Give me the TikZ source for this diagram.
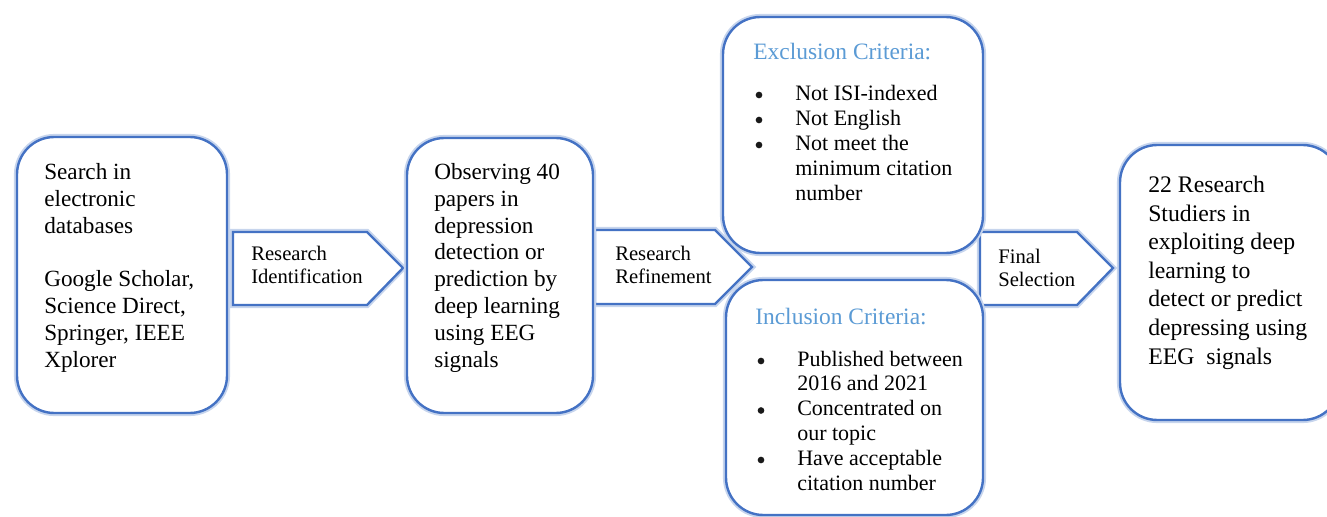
\documentclass[tikz,border=0pt]{standalone}
\usepackage{fontspec}
\setmainfont{Liberation Serif}
\newfontfamily\bodyserif{Liberation Serif}
\definecolor{bblue}{RGB}{68,114,196}
\definecolor{hblue}{RGB}{91,155,213}
\tikzset{
  glow/.style={preaction={draw=bblue!30, line width=4.6pt}},
  box/.style={glow, draw=bblue, line width=1.8pt, fill=white, rounded corners=28pt, inner sep=0pt},
  chevron/.style={glow, draw=bblue, line width=1.8pt, fill=white, line join=miter},
  bulletdot/.style={circle, fill=black!90, inner sep=0pt, minimum size=5pt},
  maintxt/.style={anchor=base west, align=left, inner sep=0pt, font=\bodyserif\fontsize{17.4}{20.1}\selectfont},
  lbltxt/.style={anchor=base west, align=left, inner sep=0pt, font=\bodyserif\fontsize{15.5}{17.25}\selectfont},
  headtxt/.style={anchor=base west, inner sep=0pt, text=hblue, font=\bodyserif\fontsize{17.6}{20}\selectfont},
  listtxt/.style={anchor=base west, align=left, inner sep=0pt, font=\bodyserif\fontsize{16.5}{18.6}\selectfont}
}
\begin{document}
\begin{tikzpicture}[x=0.75pt, y=-0.75pt]
\useasboundingbox (0,0) rectangle (1327,517);
\clip (0,0) rectangle (1327,517);
% chevrons (drawn first, behind boxes)
\draw[chevron] (233,232) -- (367,232) -- (403,268) -- (367,305) -- (233,305) -- cycle;
\draw[chevron] (595,230) -- (715,230) -- (752,267) -- (715,304) -- (595,304) -- cycle;
\draw[chevron] (980,232) -- (1077,232) -- (1113,268) -- (1077,305) -- (980,305) -- cycle;
% boxes
\node[box, minimum width=157.5pt, minimum height=207pt] (b1) at (122,275) {};
\node[box, minimum width=139.5pt, minimum height=206.25pt] (b2) at (500,275.5) {};
\node[box, minimum width=195pt, minimum height=177pt] (ex) at (853,135) {};
\node[box, minimum width=192.75pt, minimum height=176.25pt] (in) at (854.5,397.5) {};
\node[box, minimum width=165pt, minimum height=206.25pt] (b5) at (1230,282.5) {};
% texts (anchored at the baseline of their last line)
\node[maintxt] (t1) at (44,367) {Search in\\electronic\\databases\\\mbox{}\\Google Scholar,\\Science Direct,\\Springer, IEEE\\Xplorer};
\node[maintxt] (t2) at (434,367) {Observing 40\\papers in\\depression\\detection or\\prediction by\\deep learning\\using EEG\\signals};
\node[maintxt, font=\bodyserif\fontsize{17.8}{21.4}\selectfont] (t5) at (1148,364) {22 Research\\Studiers in\\exploiting deep\\learning to\\detect or predict\\depressing using\\EEG\ \ signals};
\node[lbltxt] (l1) at (251,283) {Research\\Identification};
\node[lbltxt] (l2) at (615,283) {Research\\Refinement};
\node[lbltxt] (l3) at (998,286) {Final\\Selection};
\node[headtxt] (hx) at (753,60) {Exclusion Criteria:};
\node[listtxt, font=\bodyserif\fontsize{16.5}{18.75}\selectfont] (lx) at (795,200) {Not ISI-indexed\\Not English\\Not meet the\\minimum citation\\number};
\node[headtxt] (hi) at (755,324) {Inclusion Criteria:};
\node[listtxt] (li) at (797,490) {Published between\\2016 and 2021\\Concentrated on\\our topic\\Have acceptable\\citation number};
% bullets
\node[bulletdot] (bx1) at (759,95) {};
\node[bulletdot] (bx2) at (759,120) {};
\node[bulletdot] (bx3) at (759,145) {};
\node[bulletdot] (bi1) at (761,361) {};
\node[bulletdot] (bi2) at (761,410.5) {};
\node[bulletdot] (bi3) at (761,460) {};
\end{tikzpicture}
\end{document}
